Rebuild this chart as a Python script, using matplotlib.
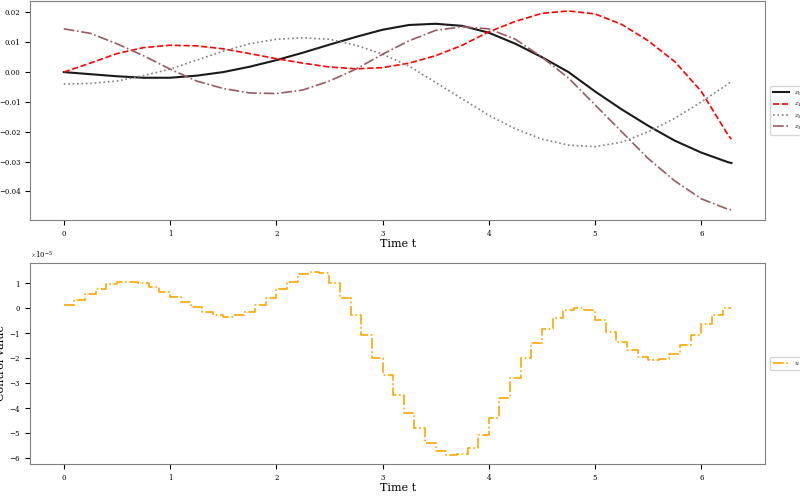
import numpy as np
import matplotlib
matplotlib.use('Agg')
import matplotlib.pyplot as plt

plt.rcParams['font.family'] = 'serif'
plt.rcParams['font.serif'] = ['DejaVu Serif']
plt.rcParams['mathtext.fontset'] = 'cm'

# state trajectories
t_state = [0, 0.25, 0.5, 0.75, 1.0, 1.25, 1.5, 1.75, 2.0, 2.25, 2.5, 2.75, 3.0, 3.25, 3.5,
           3.75, 4.0, 4.25, 4.5, 4.75, 5.0, 5.25, 5.5, 5.75, 6.0, 6.25, 6.283]
x0 = [0, -0.0007, -0.0014, -0.0019, -0.0019, -0.0012, 0.0, 0.0018, 0.004, 0.0065, 0.0092, 0.0118,
      0.0142, 0.0158, 0.0162, 0.0155, 0.0132, 0.0095, 0.005, 0.0, -0.0065, -0.0125, -0.018,
      -0.023, -0.027, -0.0302, -0.0305]
x1 = [0, 0.003, 0.0062, 0.0082, 0.009, 0.0088, 0.0078, 0.0062, 0.0045, 0.003, 0.0017, 0.0011,
      0.0015, 0.003, 0.0055, 0.009, 0.0135, 0.017, 0.0197, 0.0205, 0.0195, 0.016, 0.0105,
      0.0035, -0.0065, -0.021, -0.0225]
x2 = [-0.004, -0.0038, -0.003, -0.0012, 0.001, 0.004, 0.007, 0.0095, 0.011, 0.0115, 0.011, 0.009,
      0.006, 0.002, -0.0035, -0.009, -0.0145, -0.019, -0.0225, -0.0245, -0.025, -0.0235, -0.02,
      -0.0155, -0.01, -0.004, -0.003]
x3 = [0.0145, 0.013, 0.0095, 0.0055, 0.001, -0.003, -0.0055, -0.007, -0.0072, -0.006, -0.003,
      0.001, 0.006, 0.0105, 0.014, 0.0152, 0.0145, 0.011, 0.005, -0.002, -0.011, -0.02, -0.029,
      -0.0365, -0.0425, -0.046, -0.0462]

# piecewise constant control (x1e-5), step 0.1
u = [0.1, 0.3, 0.55, 0.75, 0.95, 1.05, 1.05, 1.0, 0.85, 0.65, 0.45, 0.25, 0.05, -0.15, -0.3,
     -0.35, -0.3, -0.15, 0.1, 0.4, 0.75, 1.05, 1.35, 1.45, 1.4, 1.0, 0.4, -0.3, -1.1, -2.0,
     -2.7, -3.5, -4.2, -4.8, -5.4, -5.75, -5.9, -5.85, -5.6, -5.1, -4.4, -3.6, -2.8, -2.0,
     -1.4, -0.85, -0.4, -0.1, 0.0, -0.1, -0.5, -0.95, -1.35, -1.7, -1.95, -2.1, -2.05, -1.85,
     -1.5, -1.1, -0.65, -0.3, 0.0, 0.0]
u = np.array(u) * 1e-5
t_u = np.arange(len(u)) * 0.1
t_u[-1] = 6.283

fig = plt.figure(figsize=(8, 5.03), dpi=100)
ax1 = fig.add_axes([0.038, 0.563, 0.918, 0.435])
ax2 = fig.add_axes([0.038, 0.077, 0.918, 0.401])

ax1.plot(t_state, x0, color='#1a1a1a', lw=1.5, label='$x_0$')
ax1.plot(t_state, x1, color='red', lw=1.2, ls='--', label='$x_1$')
ax1.plot(t_state, x2, color='gray', lw=1.2, ls=':', label='$x_2$')
ax1.plot(t_state, x3, color='#9a5a62', lw=1.2, ls='-.', label='$x_3$')
ax1.set_xlabel('Time t', fontsize=8, labelpad=1)
ax1.set_ylabel('State value', fontsize=8, labelpad=2)
ax1.legend(loc='center left', bbox_to_anchor=(1.003, 0.5), fontsize=5,
           handlelength=2.2, borderpad=0.4, labelspacing=0.3)

ax2.step(t_u, u, where='post', color='orange', lw=1.2, ls='-.', label='$u$')
ax2.set_xlabel('Time t', fontsize=8, labelpad=1)
ax2.set_ylabel('Control value', fontsize=8, labelpad=2)
ax2.legend(loc='center left', bbox_to_anchor=(1.003, 0.5), fontsize=5,
           handlelength=2.2, borderpad=0.4)
ax2.ticklabel_format(axis='y', style='sci', scilimits=(0, 0), useMathText=True)

for ax in (ax1, ax2):
    ax.tick_params(labelsize=5)
    ax.yaxis.get_offset_text().set_fontsize(5)
    for s in ax.spines.values():
        s.set_color('gray')

fig.savefig('out.png', dpi=100)
